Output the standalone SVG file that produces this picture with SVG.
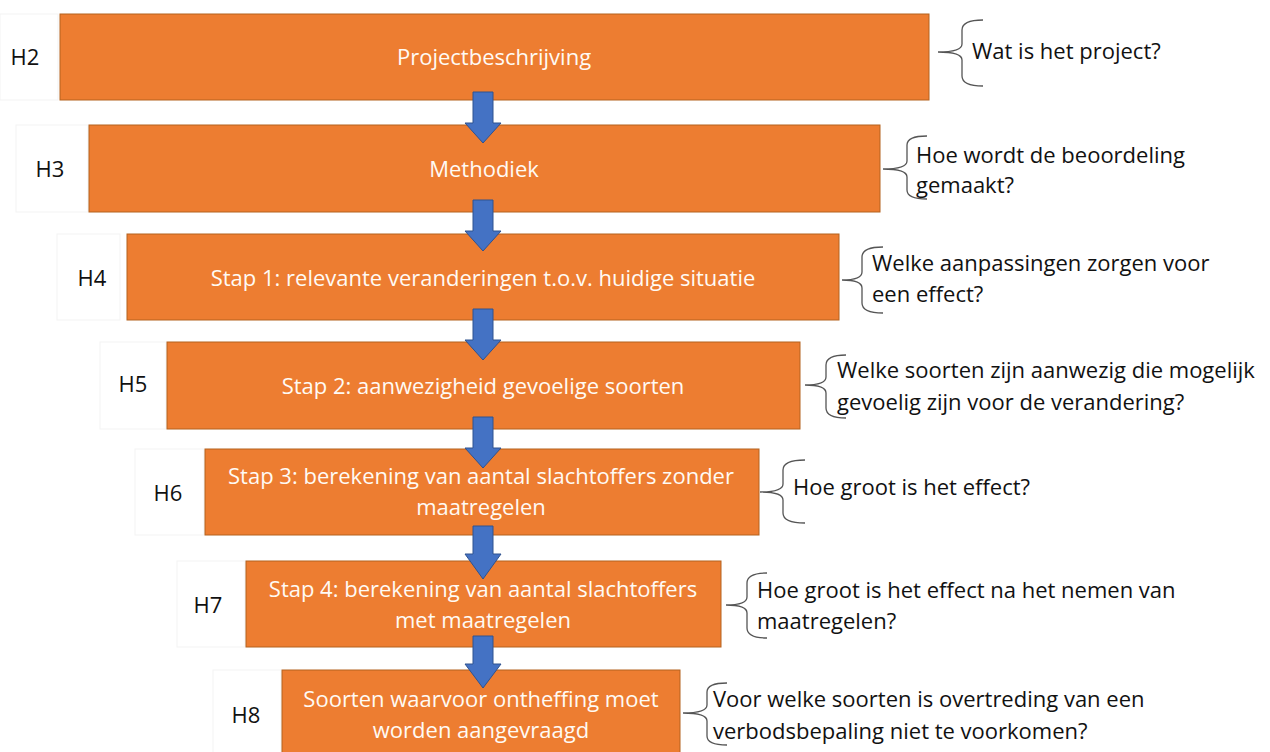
<svg xmlns="http://www.w3.org/2000/svg" width="1270" height="752" viewBox="0 0 1270 752">
<style>
.box{fill:#ED7D31;stroke:#B4621F;stroke-width:1}
.lbl{fill:#fff;stroke:#f3f3f3;stroke-width:1}
.bt{font-family:"Open Sans","Liberation Sans",sans-serif;font-size:22px;fill:#fffaf4;text-anchor:middle}
.ht{font-family:"Open Sans","Liberation Sans",sans-serif;font-size:22px;fill:#111;text-anchor:middle}
.qt{font-family:"Open Sans","Liberation Sans",sans-serif;font-size:22px;fill:#111}
.br{fill:none;stroke:#555;stroke-width:1.3}
.ar{fill:#4472C4;stroke:#2F528F;stroke-width:1}
</style>
<rect width="1270" height="752" fill="#fff"/>
<g id="label-h2"><rect class="lbl" x="0" y="14" width="58" height="86"/><text class="ht" x="25" y="65">H2</text></g>
<g id="label-h3"><rect class="lbl" x="16" y="125" width="72" height="87"/><text class="ht" x="50" y="177">H3</text></g>
<g id="label-h4"><rect class="lbl" x="57" y="234" width="63" height="86"/><text class="ht" x="92" y="286">H4</text></g>
<g id="label-h5"><rect class="lbl" x="100" y="342" width="66" height="87"/><text class="ht" x="133" y="392">H5</text></g>
<g id="label-h6"><rect class="lbl" x="135" y="449" width="69" height="86"/><text class="ht" x="168" y="501">H6</text></g>
<g id="label-h7"><rect class="lbl" x="177" y="561" width="68" height="86"/><text class="ht" x="208" y="613">H7</text></g>
<g id="label-h8"><rect class="lbl" x="213" y="670" width="68" height="90"/><text class="ht" x="246" y="723">H8</text></g>

<g id="node-h2"><rect class="box" x="60" y="14" width="869" height="86"/><text class="bt" x="494" y="65">Projectbeschrijving</text></g>
<g id="node-h3"><rect class="box" x="89" y="125" width="791" height="87"/><text class="bt" x="484" y="177">Methodiek</text></g>
<g id="node-h4"><rect class="box" x="127" y="234" width="712" height="86"/><text class="bt" x="483" y="286">Stap 1: relevante veranderingen t.o.v. huidige situatie</text></g>
<g id="node-h5"><rect class="box" x="167" y="342" width="633" height="87"/><text class="bt" x="483" y="394">Stap 2: aanwezigheid gevoelige soorten</text></g>
<g id="node-h6"><rect class="box" x="205" y="449" width="554" height="86"/><text class="bt" x="481" y="484">Stap 3: berekening van aantal slachtoffers zonder</text><text class="bt" x="481" y="515">maatregelen</text></g>
<g id="node-h7"><rect class="box" x="246" y="561" width="475" height="86"/><text class="bt" x="483" y="597">Stap 4: berekening van aantal slachtoffers</text><text class="bt" x="483" y="628">met maatregelen</text></g>
<g id="node-h8"><rect class="box" x="282" y="670" width="398" height="90"/><text class="bt" x="481" y="707">Soorten waarvoor ontheffing moet</text><text class="bt" x="481" y="738">worden aangevraagd</text></g>

<g id="connectors">
<path class="ar" d="M473,92 H493 V123 H501 L483,143 L465,123 H473 Z"/>
<path class="ar" d="M473,200 H493 V231 H501 L483,251 L465,231 H473 Z"/>
<path class="ar" d="M473,309 H493 V340 H501 L483,360 L465,340 H473 Z"/>
<path class="ar" d="M473,417 H493 V448 H501 L483,468 L465,448 H473 Z"/>
<path class="ar" d="M473,526 H493 V554 H501 L483,579 L465,554 H473 Z"/>
<path class="ar" d="M473,636 H493 V664 H501 L483,688 L465,664 H473 Z"/>
</g>

<g id="q-h2"><path class="br" d="M983,20 Q962,20 962,30 V44 Q962,52 938,52 Q962,52 962,60 V76 Q962,86 983,86"/><text class="qt" x="972" y="59">Wat is het project?</text></g>
<g id="q-h3"><path class="br" d="M927,136 Q907,136 907,145 V161 Q907,169 883,169 Q907,169 907,177 V190 Q907,199 927,199"/><text class="qt" x="916" y="163">Hoe wordt de beoordeling</text><text class="qt" x="916" y="193">gemaakt?</text></g>
<g id="q-h4"><path class="br" d="M883,247 Q862,247 862,257 V272 Q862,280 842,280 Q862,280 862,288 V303 Q862,313 883,313"/><text class="qt" x="872" y="271">Welke aanpassingen zorgen voor</text><text class="qt" x="872" y="302">een effect?</text></g>
<g id="q-h5"><path class="br" d="M846,355 Q826,355 826,365 V377 Q826,385 805,385 Q826,385 826,393 V408 Q826,418 846,418"/><text class="qt" x="837" y="378">Welke soorten zijn aanwezig die mogelijk</text><text class="qt" x="837" y="410">gevoelig zijn voor de verandering?</text></g>
<g id="q-h6"><path class="br" d="M805,460 Q783,460 783,470 V484 Q783,492 760,492 Q783,492 783,500 V513 Q783,523 805,523"/><text class="qt" x="793" y="495">Hoe groot is het effect?</text></g>
<g id="q-h7"><path class="br" d="M767,573 Q747,573 747,583 V597 Q747,605 726,605 Q747,605 747,613 V628 Q747,638 767,638"/><text class="qt" x="757" y="598">Hoe groot is het effect na het nemen van</text><text class="qt" x="757" y="629">maatregelen?</text></g>
<g id="q-h8"><path class="br" d="M727,683 Q707,683 707,692 V705 Q707,713 683,713 Q707,713 707,721 V736 Q707,745 727,745"/><text class="qt" x="713" y="707">Voor welke soorten is overtreding van een</text><text class="qt" x="713" y="739">verbodsbepaling niet te voorkomen?</text></g>
</svg>
